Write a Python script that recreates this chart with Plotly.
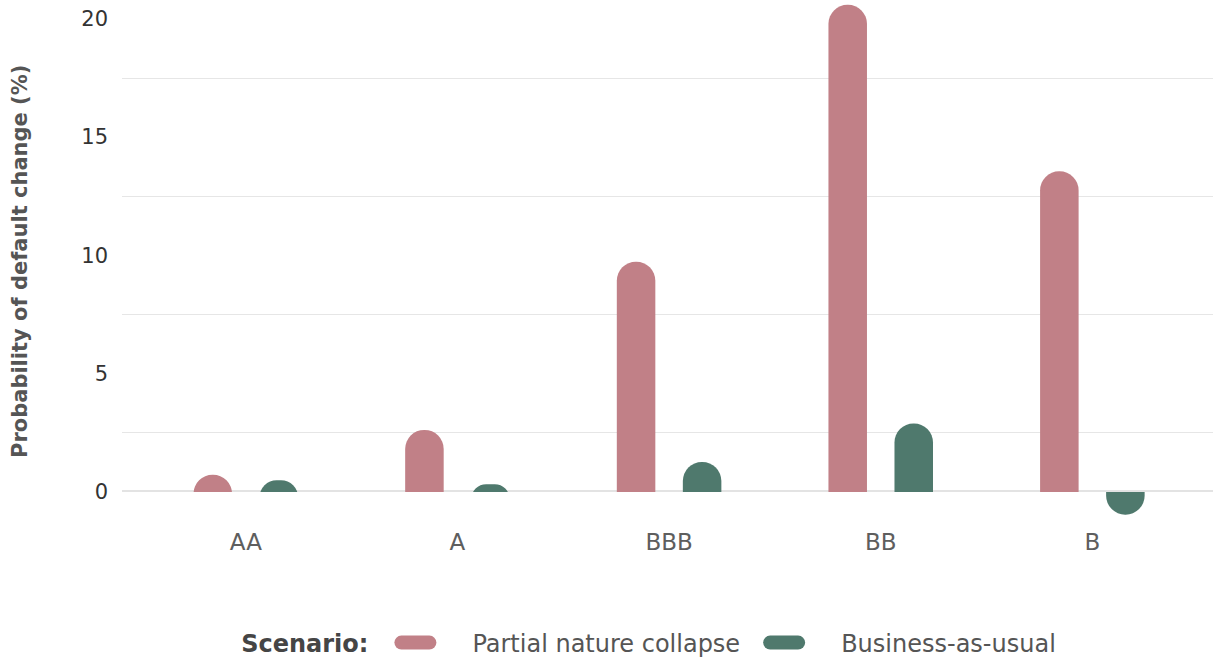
import plotly.graph_objects as go

categories = ["AA", "A", "BBB", "BB", "B"]
partial_collapse = [0.70, 2.60, 9.72, 20.6, 13.55]
business_as_usual = [0.47, 0.30, 1.24, 2.87, -0.99]
series_names = ["Partial nature collapse", "Business-as-usual"]
y_tick_values = [0, 5, 10, 15, 20]
y_tick_labels = ["0", "5", "10", "15", "20"]
y_minor_grid = [2.5, 7.5, 12.5, 17.5]

PINK = "#C18087"
GREEN = "#4F796D"
FONT = "DejaVu Sans"
ITEM_W = 86

# axis geometry
Y_BOTTOM, Y_SPLIT, Y_TOP = -1.3, -0.03, 20.72
split_frac = (Y_SPLIT - Y_BOTTOM) / (Y_TOP - Y_BOTTOM)
BAR_W = 0.182
HALF_GAP = 0.156
BASE = -1.0  # bars grow from below the axis; the upper panel clips them at zero


def above(vals):
    return [v - BASE if v >= 0 else None for v in vals]


def below(vals):
    return [v if v < 0 else None for v in vals]


fig = go.Figure()
fig.add_trace(go.Bar(x=categories, y=above(partial_collapse), base=BASE,
                     name=series_names[0], xaxis="x", yaxis="y2",
                     width=BAR_W, offset=-HALF_GAP - BAR_W / 2,
                     customdata=partial_collapse, hovertemplate="%{x}: %{customdata}<extra></extra>",
                     marker=dict(color=PINK, cornerradius="50%", line=dict(width=0))))
fig.add_trace(go.Bar(x=categories, y=above(business_as_usual), base=BASE,
                     name=series_names[1], xaxis="x", yaxis="y2",
                     width=BAR_W, offset=HALF_GAP - BAR_W / 2,
                     customdata=business_as_usual, hovertemplate="%{x}: %{customdata}<extra></extra>",
                     marker=dict(color=GREEN, cornerradius="50%", line=dict(width=0))))
fig.add_trace(go.Bar(x=categories, y=below(business_as_usual),
                     name=series_names[1], xaxis="x", yaxis="y", showlegend=False,
                     width=BAR_W, offset=HALF_GAP - BAR_W / 2,
                     hovertemplate="%{x}: %{y}<extra></extra>",
                     marker=dict(color=GREEN, cornerradius="50%", line=dict(width=0))))

fig.update_layout(
    width=1213, height=657,
    paper_bgcolor="white", plot_bgcolor="white",
    margin=dict(l=122, r=0, t=2, b=135, autoexpand=False),
    barmode="overlay",
    font=dict(family=FONT, size=20, color="#555555"),
    showlegend=True,
    legend=dict(orientation="h", xref="container", yref="container",
                x=0.536, xanchor="center", y=1 - 643 / 657, yanchor="middle",
                title=dict(text="<b>Scenario:</b>", side="left",
                           font=dict(size=24, color="#454545")),
                font=dict(size=24, color="#555555"),
                itemwidth=ITEM_W, tracegroupgap=0, bgcolor="rgba(0,0,0,0)"),
    xaxis=dict(range=[-0.585, 4.57], showgrid=False, zeroline=False, showline=False,
               anchor="y", automargin=False, ticks="",
               tickfont=dict(size=23, color="#5E5E5E"), ticklabelstandoff=4),
    yaxis=dict(domain=[0, split_frac], range=[Y_BOTTOM, Y_SPLIT], showgrid=False,
               zeroline=False, showline=False, showticklabels=False, ticks="",
               automargin=False),
    yaxis2=dict(domain=[split_frac, 1], range=[Y_SPLIT, Y_TOP], anchor="x",
                tickvals=y_tick_values, ticktext=y_tick_labels,
                showgrid=False, zeroline=True, zerolinecolor="#E3E3E3", zerolinewidth=1.5,
                minor=dict(tickvals=y_minor_grid, showgrid=True, gridcolor="#E6E6E6",
                           gridwidth=1.2, ticks=""),
                automargin=False, ticks="", tickfont=dict(size=21, color="#333333"),
                ticklabelstandoff=13),
    annotations=[dict(text="<b>Probability of default change (%)</b>", textangle=-90,
                      xref="paper", yref="paper", x=(20 - 122) / 1091, y=0.5,
                      xanchor="center", yanchor="middle", showarrow=False,
                      font=dict(size=21, color="#555555"))],
)

post = """
document.body.style.margin = '0';
document.body.style.overflow = 'hidden';
var gd = document.getElementById('{plot_id}');
function pillLegend() {
  var items = gd.querySelectorAll('.legend .traces');
  items.forEach(function (t) {
    var p = t.querySelector('.legendpoints path');
    var txt = t.querySelector('text.legendtext');
    if (!p || !txt) return;
    var tx = parseFloat(txt.getAttribute('x'));
    if (isNaN(tx)) tx = %d + 10;
    var right = tx - 36, left = right - 42, r = 7;
    p.removeAttribute('transform');
    p.setAttribute('d', 'M' + (left + r) + ',' + r + 'H' + (right - r) +
      'A' + r + ',' + r + ' 0 0 0 ' + (right - r) + ',' + (-r) +
      'H' + (left + r) + 'A' + r + ',' + r + ' 0 0 0 ' + (left + r) + ',' + r + 'Z');
  });
}
pillLegend();
gd.on('plotly_afterplot', pillLegend);
""" % ITEM_W

fig.write_html("out.html", post_script=post, config={"displayModeBar": False})
